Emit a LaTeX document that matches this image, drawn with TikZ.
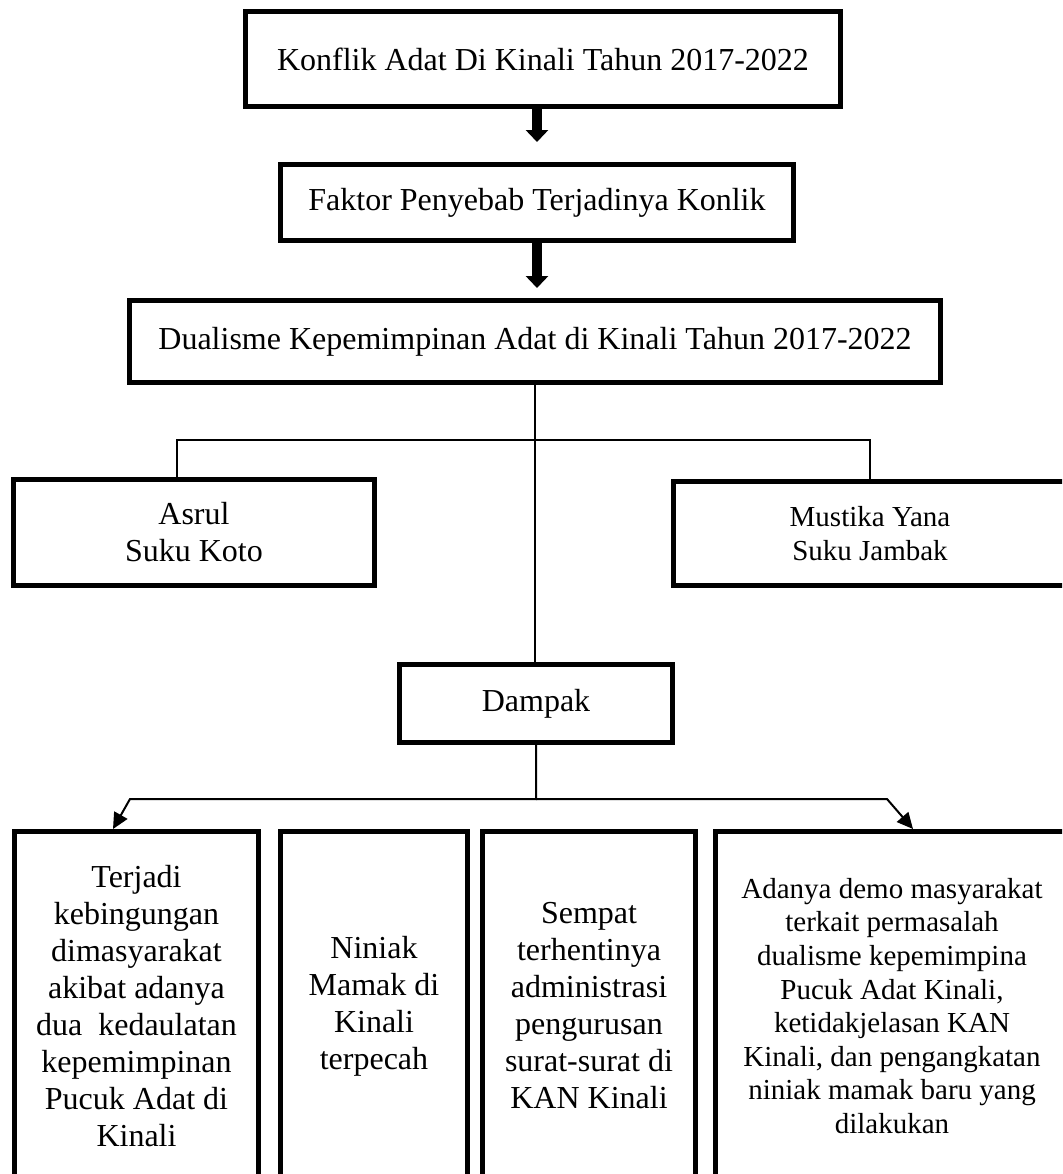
\documentclass[tikz,border=0pt]{standalone}
\usepackage{fontspec}
\setmainfont{Liberation Serif}
\usetikzlibrary{arrows.meta}
\begin{document}
\begin{tikzpicture}[x=0.5pt,y=-0.5pt,
  box/.style={draw, line width=2.5pt, inner sep=0pt, align=center,
    font=\fontsize{16}{18.5}\selectfont},
  smallbox/.style={box, font=\fontsize{14.5}{16.8}\selectfont},
  bigarrow/.style={line width=5pt, -{Triangle[width=11pt,length=6pt]}},
  thinline/.style={line width=0.75pt},
  lowarrow/.style={line width=1pt, -{Triangle[width=7.5pt,length=8pt]}}]
\useasboundingbox (0,0) rectangle (1062,1174);
\clip (0,0) rectangle (1062,1174);

% boxes
\node[box, minimum width=297.5pt, minimum height=47.5pt] (k1) at (543,59)
  {Konflik Adat Di Kinali Tahun 2017-2022};
\node[box, minimum width=256.5pt, minimum height=38pt] (k2) at (537,202.5)
  {Faktor Penyebab Terjadinya Konlik};
\node[box, minimum width=405.5pt, minimum height=41pt] (k3) at (535,341.5)
  {Dualisme Kepemimpinan Adat di Kinali Tahun 2017-2022};
\node[box, minimum width=180.5pt, minimum height=53pt] (asrul) at (194,532.5)
  {Asrul\\Suku Koto};
\node[smallbox, minimum width=196.5pt, minimum height=52pt] (must) at (870,533.5)
  {Mustika Yana\\Suku Jambak};
\node[box, minimum width=136.5pt, minimum height=39pt] (dampak) at (536,703.5)
  {Dampak};
\node[box, minimum width=122pt, minimum height=174.5pt] (b1) at (136.5,1006)
  {Terjadi\\kebingungan\\dimasyarakat\\akibat adanya\\dua\ \ kedaulatan\\kepemimpinan\\Pucuk Adat di\\Kinali};
\node[box, minimum width=93.5pt, minimum height=174.5pt] (b2) at (374,1006)
  {Niniak\\Mamak di\\Kinali\\terpecah};
\node[box, minimum width=106.5pt, minimum height=174.5pt] (b3) at (589,1006)
  {Sempat\\terhentinya\\administrasi\\pengurusan\\surat-surat di\\KAN Kinali};
\node[smallbox, minimum width=176.5pt, minimum height=174.5pt] (b4) at (892,1006)
  {Adanya demo masyarakat\\terkait permasalah\\dualisme kepemimpina\\Pucuk Adat Kinali,\\ketidakjelasan KAN\\Kinali, dan pengangkatan\\niniak mamak baru yang\\dilakukan};

% thick arrows
\draw[bigarrow, shorten >=10pt] (k1.south -| k2.north) -- (k2.north);
\draw[bigarrow, shorten >=5pt] (k2.south) -- (k2.south |- k3.north);

% upper tree
\coordinate (jl) at (177,440);
\coordinate (jr) at (870,440);
\draw[thinline] (k3.south) -- (k3.south |- dampak.north);
\draw[thinline] (jl |- asrul.north) -- (jl) -- (jr) -- (jr |- must.north);

% lower tree
\coordinate (bl) at (130,799);
\coordinate (br) at (887,799);
\coordinate (tipL) at (113,829);
\coordinate (tipR) at (913,829);
\draw[lowarrow] (dampak.south) -- (dampak.south |- bl) -- (bl) -- (tipL);
\draw[lowarrow] (dampak.south |- br) -- (br) -- (tipR);
\end{tikzpicture}
\end{document}
